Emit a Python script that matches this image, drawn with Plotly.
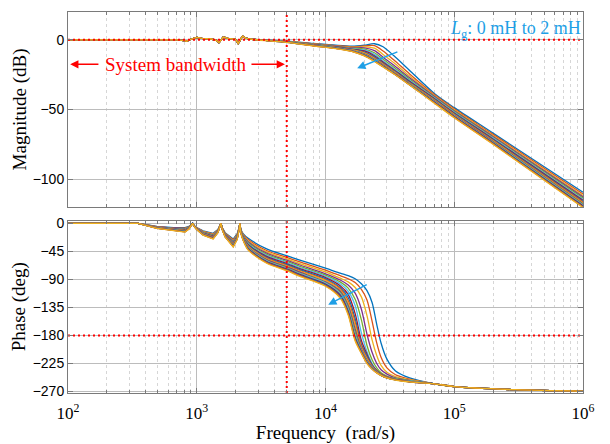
import math
import plotly.graph_objects as go

# ---------------- data ----------------
COLORS = ['#0072BD', '#D95319', '#EDB120', '#7E2F8E', '#77AC30', '#4DBEEE', '#A2142F']
LG_MH = [0, 0.125, 0.25, 0.375, 0.5, 0.625, 0.75, 0.875, 1.0,
         1.125, 1.25, 1.375, 1.5, 1.625, 1.75, 1.875, 2.0]

# magnitude, part common to all curves (rad/s, dB)
MAG_LOW_W = [100, 300, 500, 700, 800, 834, 900, 1000, 1100, 1300, 1420, 1486, 1540,
             1608, 1750, 2000, 2099, 2180, 2270, 2400, 2600]
MAG_LOW_DB = [0, 0.3, 0.3, 0, -0.6, -1.0, 0.4, 1.8, 1.0, 0.6, -0.4, -2.0, -0.3,
              2.0, 1.0, 0.4, -2.6, -0.5, 2.6, 1.3, 0.6]

# magnitude, per-curve part (rad/s, dB)
MAG_HI_W = [3000, 5000, 8000, 12000, 16000, 20000, 24000, 28000, 34000, 45000,
            70000, 100000, 200000, 1000000]
MAG_HI_DB = [
    [0.2, -1.0, -2.6, -3.9, -4.5, -3.8, -2.8, -5.0, -11.5, -22.0, -38.5, -48.7, -67.0, -109.5],
    [0.17, -1.09, -2.79, -4.17, -5.0, -4.4, -4.2, -8.0, -14.5, -24.5, -39.3, -49.5, -67.9, -110.7],
    [0.14, -1.17, -2.96, -4.41, -5.4, -5.0, -6.0, -10.5, -16.5, -26.0, -40.0, -50.3, -68.7, -111.8],
    [0.11, -1.24, -3.11, -4.62, -5.8, -5.8, -7.8, -12.5, -18.3, -27.3, -40.6, -50.9, -69.4, -112.8],
    [0.09, -1.31, -3.25, -4.82, -6.1, -6.6, -9.3, -14.0, -19.7, -28.3, -41.2, -51.5, -70.1, -113.7],
    [0.06, -1.36, -3.38, -5.0, -6.4, -7.3, -10.4, -15.0, -20.7, -29.1, -41.7, -52.0, -70.6, -114.5],
    [0.04, -1.42, -3.49, -5.15, -6.7, -8.0, -11.4, -15.9, -21.5, -29.8, -42.2, -52.5, -71.2, -115.2],
    [0.02, -1.47, -3.59, -5.3, -6.9, -8.6, -12.2, -16.6, -22.1, -30.3, -42.6, -53.0, -71.7, -115.9],
    [0.01, -1.51, -3.69, -5.44, -7.1, -9.1, -12.9, -17.2, -22.6, -30.8, -43.0, -53.4, -72.1, -116.6],
    [-0.01, -1.56, -3.78, -5.57, -7.3, -9.6, -13.4, -17.7, -23.0, -31.2, -43.4, -53.8, -72.6, -117.2],
    [-0.02, -1.6, -3.87, -5.69, -7.5, -10.0, -13.9, -18.1, -23.4, -31.5, -43.7, -54.2, -73.0, -117.7],
    [-0.04, -1.64, -3.95, -5.81, -7.7, -10.4, -14.3, -18.5, -23.7, -31.8, -44.1, -54.5, -73.4, -118.2],
    [-0.05, -1.67, -4.03, -5.92, -7.8, -10.7, -14.6, -18.8, -23.9, -32.0, -44.4, -54.8, -73.7, -118.7],
    [-0.06, -1.71, -4.1, -6.02, -7.95, -10.95, -14.9, -19.0, -24.1, -32.2, -44.7, -55.1, -74.1, -119.2],
    [-0.08, -1.74, -4.17, -6.12, -8.1, -11.15, -15.1, -19.2, -24.3, -32.3, -45.0, -55.4, -74.4, -119.7],
    [-0.09, -1.77, -4.24, -6.21, -8.2, -11.35, -15.3, -19.35, -24.4, -32.4, -45.2, -55.7, -74.7, -120.1],
    [-0.1, -1.8, -4.3, -6.3, -8.3, -11.5, -15.5, -19.5, -24.5, -32.5, -45.5, -56.0, -75.0, -120.5],
]

# phase, low-frequency part (rad/s, deg)
PH_LOW_W = [100, 350, 490, 660, 810, 870, 905, 929, 955, 1000, 1120, 1340, 1460, 1510,
            1541, 1580, 1660, 1920, 2060, 2130, 2163, 2200, 2300, 2510, 3490, 4990, 6320]
PH_LOW_DEG = [
    [0, 0, -5, -7, -7, -5, -2.5, 0, -3.5, -7, -12, -16, -10, -4.5, 0, -7, -15, -25, -17, -7, 0, -10, -17, -24, -41, -52, -59],
    [0, 0, -5.3, -7.6, -7.8, -5.5, -2.7, 0, -3.7, -7.3, -12.8, -17, -10.6, -4.7, 0, -7.4, -15.8, -26.5, -18, -7.5, 0, -10.7, -18.2, -26.1, -43.6, -54.7, -61.9],
    [0, 0, -5.6, -8.1, -8.5, -5.9, -2.8, 0, -3.8, -7.6, -13.5, -17.9, -11.1, -4.9, 0, -7.7, -16.5, -27.8, -18.9, -7.9, 0, -11.3, -19.3, -28.0, -45.9, -57.1, -64.5],
    [0, 0, -5.9, -8.5, -9.1, -6.2, -3.0, 0, -4.0, -7.9, -14.1, -18.7, -11.5, -5.1, 0, -8.1, -17.1, -28.9, -19.7, -8.2, 0, -11.8, -20.3, -29.7, -47.9, -59.2, -66.9],
    [0, 0, -6.2, -8.9, -9.7, -6.5, -3.1, 0, -4.1, -8.2, -14.7, -19.4, -11.9, -5.3, 0, -8.3, -17.7, -30.0, -20.4, -8.5, 0, -12.3, -21.2, -31.3, -49.8, -61.2, -69.0],
    [0, 0, -6.4, -9.3, -10.2, -6.8, -3.2, 0, -4.2, -8.4, -15.2, -20.1, -12.3, -5.4, 0, -8.6, -18.2, -30.9, -21.1, -8.8, 0, -12.7, -22.0, -32.7, -51.5, -62.9, -70.9],
    [0, 0, -6.6, -9.6, -10.7, -7.1, -3.3, 0, -4.3, -8.6, -15.7, -20.7, -12.6, -5.5, 0, -8.8, -18.7, -31.8, -21.7, -9.1, 0, -13.1, -22.7, -33.9, -53.0, -64.5, -72.6],
    [0, 0, -6.8, -9.9, -11.1, -7.3, -3.4, 0, -4.4, -8.8, -16.1, -21.3, -12.9, -5.7, 0, -9.1, -19.1, -32.6, -22.3, -9.3, 0, -13.5, -23.4, -35.1, -54.5, -66.0, -74.2],
    [0, 0, -6.9, -10.2, -11.5, -7.6, -3.5, 0, -4.5, -8.9, -16.5, -21.8, -13.2, -5.8, 0, -9.3, -19.5, -33.3, -22.8, -9.6, 0, -13.9, -24.1, -36.2, -55.8, -67.4, -75.7],
    [0, 0, -7.1, -10.5, -11.9, -7.8, -3.5, 0, -4.5, -9.1, -16.9, -22.3, -13.5, -5.9, 0, -9.4, -19.9, -34.0, -23.3, -9.8, 0, -14.2, -24.7, -37.2, -57.0, -68.7, -77.1],
    [0, 0, -7.2, -10.7, -12.2, -8.0, -3.6, 0, -4.6, -9.2, -17.2, -22.7, -13.7, -6.0, 0, -9.6, -20.2, -34.7, -23.7, -10.0, 0, -14.5, -25.2, -38.2, -58.2, -69.9, -78.4],
    [0, 0, -7.4, -11.0, -12.6, -8.2, -3.7, 0, -4.7, -9.4, -17.6, -23.2, -14.0, -6.1, 0, -9.8, -20.6, -35.3, -24.2, -10.2, 0, -14.8, -25.7, -39.1, -59.3, -71.1, -79.7],
    [0, 0, -7.5, -11.2, -12.9, -8.4, -3.8, 0, -4.8, -9.5, -17.9, -23.6, -14.2, -6.2, 0, -9.9, -20.9, -35.9, -24.6, -10.4, 0, -15.0, -26.2, -40.0, -60.3, -72.2, -80.8],
    [0, 0, -7.7, -11.4, -13.2, -8.5, -3.8, 0, -4.8, -9.7, -18.2, -23.9, -14.4, -6.3, 0, -10.1, -21.2, -36.5, -24.9, -10.5, 0, -15.3, -26.7, -40.8, -61.3, -73.2, -82.0],
    [0, 0, -7.8, -11.6, -13.5, -8.7, -3.9, 0, -4.9, -9.8, -18.5, -24.3, -14.6, -6.4, 0, -10.2, -21.5, -37.0, -25.3, -10.7, 0, -15.5, -27.2, -41.6, -62.3, -74.2, -83.0],
    [0, 0, -7.9, -11.8, -13.7, -8.9, -4.0, 0, -5.0, -9.9, -18.7, -24.7, -14.8, -6.4, 0, -10.4, -21.7, -37.5, -25.7, -10.9, 0, -15.8, -27.6, -42.3, -63.1, -75.1, -84.0],
    [0, 0, -8.0, -12.0, -14.0, -9.0, -4.0, 0, -5.0, -10.0, -19.0, -25.0, -15.0, -6.5, 0, -10.5, -22.0, -38.0, -26.0, -11.0, 0, -16.0, -28.0, -43.0, -64.0, -76.0, -85.0],
]

# phase, per-curve steep part (rad/s, deg)
PH_HI_W = [10000, 13000, 15000, 17000, 19000, 21000, 23000, 25000, 27000, 30000, 35000, 45000]
PH_HI_DEG = [
    [-72, -80, -84, -89, -97, -108, -127, -162, -192, -218, -237, -248],
    [-75, -84, -89, -95, -106, -123, -157, -192, -215, -232, -243, -250],
    [-78, -88, -94, -103, -118, -148, -187, -212, -228, -239, -246, -251],
    [-81, -91, -99, -112, -138, -178, -207, -225, -235, -242, -248, -252],
    [-83, -94, -104, -122, -155, -196, -219, -232, -240, -245, -249, -252.5],
    [-85, -97, -109, -132, -176, -206, -225, -236, -242, -246, -250, -253],
    [-87, -100, -114, -145, -188, -210, -227, -236, -242, -246.5, -250.5, -253.5],
    [-89, -103, -119, -153, -194, -213, -228, -237, -242.5, -247, -251, -253.5],
    [-90.6, -105, -124, -159, -197, -216, -229, -237.5, -243, -247, -251, -254],
    [-92, -107, -128, -164, -200, -218, -230, -238, -243, -247.5, -251, -254],
    [-94, -109, -132, -170, -202, -220, -231, -238.5, -243.5, -247.5, -251, -254],
    [-95, -111, -135, -175, -204, -221, -232, -239, -243.5, -248, -251, -254],
    [-96, -113, -138, -180, -205, -222, -232.5, -239, -244, -248, -251, -254],
    [-97.5, -115, -141, -183, -206, -223, -233, -239.5, -244, -248, -251, -254.3],
    [-98.8, -117, -143, -185, -207, -224, -233.5, -239.5, -244, -248, -251.2, -254.4],
    [-100, -118.5, -145, -187, -208, -224.5, -234, -240, -244, -248, -251.3, -254.5],
    [-101, -120, -147, -189, -209, -225, -234, -240, -244, -248, -251.5, -254.5],
]

# phase, common high-frequency tail
PH_TAIL_W = [70000, 100000, 300000, 1000000]
PH_TAIL_DEG = [-257.5, -262, -267, -269.5]

# reference marks and axes
BANDWIDTH_W = 5000
MAG_REF_DB = 0
PH_REF_DEG = -180
X_RANGE_W = [100, 1000000]
MAG_RANGE = [-120, 20]
PH_RANGE = [-272.3, 4.5]
X_TICKS = [100, 1000, 10000, 100000, 1000000]
X_TICK_TEXT = ['10<sup>2</sup>', '10<sup>3</sup>', '10<sup>4</sup>', '10<sup>5</sup>', '10<sup>6</sup>']
MAG_TICKS = [-100, -50, 0]
PH_TICKS = [-270, -225, -180, -135, -90, -45, 0]

# annotation anchors
BW_TEXT_W = 678
BW_TEXT_DB = -17.6
BW_ARROWS = [(177, 104), (2590, 4840)]              # (tail, head) in rad/s
LG_ARROW_MAG = ((37150, -8.2), (17620, -20.4))      # (tail, head) in (rad/s, dB)
LG_ARROW_PH = ((21460, -97.2), (10500, -130.5))     # (tail, head) in (rad/s, deg)
LG_TEXT_DB = 7.5

for arr in MAG_HI_DB:
    assert len(arr) == len(MAG_HI_W)
for arr in PH_LOW_DEG:
    assert len(arr) == len(PH_LOW_W)
for arr in PH_HI_DEG:
    assert len(arr) == len(PH_HI_W)
assert len(MAG_LOW_W) == len(MAG_LOW_DB)

# ---------------- figure ----------------
SERIF = 'Liberation Serif'
SANS = 'Liberation Sans'
LW = 1.3

fig = go.Figure()
split = PH_LOW_W.index(2200)
for k in range(len(LG_MH)):
    c = COLORS[k % len(COLORS)]
    common = dict(mode='lines', showlegend=False, hoverinfo='skip')
    fig.add_trace(go.Scatter(x=MAG_LOW_W, y=MAG_LOW_DB, line=dict(color=c, width=LW),
                             xaxis='x', yaxis='y', **common))
    fig.add_trace(go.Scatter(x=[MAG_LOW_W[-1]] + MAG_HI_W, y=[MAG_LOW_DB[-1]] + MAG_HI_DB[k],
                             line=dict(color=c, width=LW, shape='spline', smoothing=0.8),
                             xaxis='x', yaxis='y', **common))
    fig.add_trace(go.Scatter(x=PH_LOW_W[:split + 1], y=PH_LOW_DEG[k][:split + 1],
                             line=dict(color=c, width=LW), xaxis='x2', yaxis='y2', **common))
    fig.add_trace(go.Scatter(x=PH_LOW_W[split:] + PH_HI_W + PH_TAIL_W,
                             y=PH_LOW_DEG[k][split:] + PH_HI_DEG[k] + PH_TAIL_DEG,
                             line=dict(color=c, width=LW, shape='spline', smoothing=0.8),
                             xaxis='x2', yaxis='y2', **common))

RED = '#FF0000'
red_line = dict(color=RED, width=2, dash='2px,3px')
ref_common = dict(mode='lines', line=red_line, showlegend=False, hoverinfo='skip')
fig.add_trace(go.Scatter(x=X_RANGE_W, y=[MAG_REF_DB, MAG_REF_DB], xaxis='x', yaxis='y', **ref_common))
fig.add_trace(go.Scatter(x=X_RANGE_W, y=[PH_REF_DEG, PH_REF_DEG], xaxis='x2', yaxis='y2', **ref_common))
fig.add_trace(go.Scatter(x=[BANDWIDTH_W, BANDWIDTH_W], y=MAG_RANGE, xaxis='x', yaxis='y', **ref_common))
fig.add_trace(go.Scatter(x=[BANDWIDTH_W, BANDWIDTH_W], y=PH_RANGE, xaxis='x2', yaxis='y2', **ref_common))

AX_COL = '#7a7a7a'
GRID_COL = '#bcbcbc'
MINOR_COL = '#d6d6d6'

xcommon = dict(type='log', range=[2, 6], tickvals=X_TICKS, ticktext=X_TICK_TEXT,
               showline=True, linecolor=AX_COL, linewidth=1, mirror='ticks',
               ticks='inside', ticklen=5, tickcolor=AX_COL,
               showgrid=True, gridcolor=GRID_COL, gridwidth=1,
               minor=dict(dtick='D1', showgrid=True, gridcolor=MINOR_COL, griddash='dot',
                          gridwidth=1, ticks='inside', ticklen=3, tickcolor=AX_COL),
               zeroline=False)
ycommon = dict(showline=True, linecolor=AX_COL, linewidth=1, mirror='ticks',
               ticks='inside', ticklen=5, tickcolor=AX_COL,
               showgrid=True, gridcolor=GRID_COL, gridwidth=1, zeroline=False,
               tickfont=dict(family=SANS, size=14, color='black'))

fig.update_layout(
    width=610, height=444,
    margin=dict(l=68, r=27, t=7, b=46),
    paper_bgcolor='white', plot_bgcolor='white',
    showlegend=False,
    xaxis=dict(**xcommon, anchor='y', showticklabels=False, matches='x2'),
    xaxis2=dict(**xcommon, anchor='y2', ticklabelstandoff=5,
                tickfont=dict(family=SERIF, size=17, color='black'),
                title=dict(text='Frequency  (rad/s)', font=dict(family=SERIF, size=19, color='black'),
                           standoff=0)),
    yaxis=dict(**ycommon, domain=[0.4885, 1], range=MAG_RANGE, tickvals=MAG_TICKS,
               anchor='x',
               title=dict(text='Magnitude (dB)', font=dict(family=SERIF, size=19, color='black'),
                          standoff=1)),
    yaxis2=dict(**ycommon, domain=[0, 0.4527], range=PH_RANGE, tickvals=PH_TICKS,
                anchor='x2',
                title=dict(text='Phase (deg)', font=dict(family=SERIF, size=19, color='black'),
                           standoff=1)),
)

fig.add_annotation(x=math.log10(BW_TEXT_W), y=BW_TEXT_DB, xref='x', yref='y',
                   text='System bandwidth', showarrow=False,
                   font=dict(family=SERIF, size=19, color=RED))
for tail, head in BW_ARROWS:
    fig.add_annotation(x=math.log10(head), y=BW_TEXT_DB, ax=math.log10(tail), ay=BW_TEXT_DB,
                       xref='x', yref='y', axref='x', ayref='y', text='',
                       showarrow=True, arrowhead=2, arrowsize=1.1, arrowwidth=1.5,
                       arrowcolor=RED)

CYAN = '#1E9FE6'
for (tail, head), yr, xr in ((LG_ARROW_MAG, 'y', 'x'), (LG_ARROW_PH, 'y2', 'x2')):
    fig.add_annotation(x=math.log10(head[0]), y=head[1], ax=math.log10(tail[0]), ay=tail[1],
                       xref=xr, yref=yr, axref=xr, ayref=yr, text='',
                       showarrow=True, arrowhead=2, arrowsize=1.1, arrowwidth=1.5,
                       arrowcolor=CYAN)
fig.add_annotation(x=1, y=LG_TEXT_DB, xref='x domain', yref='y', xanchor='right',
                   text='<i>L</i><sub>g</sub>: 0 mH to 2 mH', showarrow=False,
                   font=dict(family=SERIF, size=18, color=CYAN))

fig.write_html('out.html')
